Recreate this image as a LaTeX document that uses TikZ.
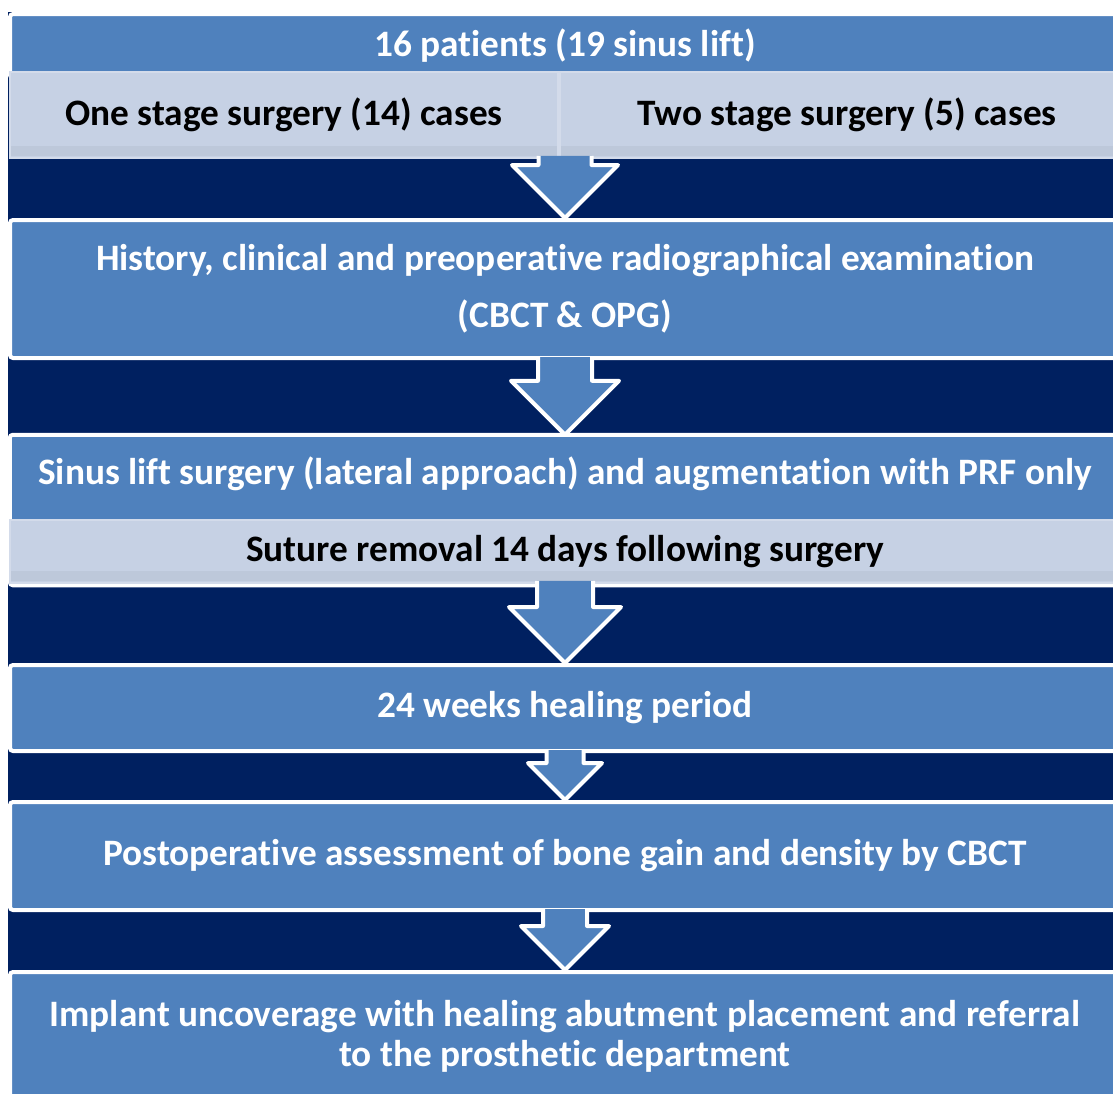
\documentclass[tikz,border=0pt]{standalone}
\usepackage{fontspec}
\setmainfont{Carlito}[Ligatures={NoCommon,NoContextual},Contextuals=NoAlternate]
\usetikzlibrary{calc,backgrounds}
\definecolor{boxblue}{HTML}{4F81BD}
\definecolor{navy}{HTML}{002060}
\definecolor{paleblue}{HTML}{C6D1E4}
\definecolor{paleedge}{HTML}{D3DBEA}
\definecolor{paleband}{HTML}{BDC8DA}

% block arrow from the bottom of #1 down to the top of #2, head size #3
\newcommand{\blockarrow}[3]{%
  \filldraw[flowarrow] let \p1=(#1), \p2=(#2) in
    (\x2-#3/2,\y1+3pt) -- (\x2-#3/2,\y2+#3) -- (\x2-#3,\y2+#3) -- (\x2,\y2)
    -- (\x2+#3,\y2+#3) -- (\x2+#3/2,\y2+#3) -- (\x2+#3/2,\y1+3pt);}

\begin{document}
\begin{tikzpicture}[x=1pt,y=-1pt,
  font=\fontsize{37.3}{40}\selectfont\bfseries,
  stepbox/.style={draw=white,line width=4pt,fill=boxblue,rounded corners=3pt},
  steptext/.style={text=white,align=center,minimum width=1110pt,inner sep=0pt},
  notebox/.style={draw=paleedge,line width=1.5pt,fill=paleblue,text=black,inner sep=0pt,
    path picture={\fill[paleband] ([yshift=2pt]path picture bounding box.south west)
      rectangle ([yshift=12pt]path picture bounding box.south east);}},
  flowarrow/.style={draw=white,line width=4pt,fill=boxblue,line join=round}]
  \useasboundingbox (0,0) rectangle (1113,1093);

  \node[stepbox,steptext,minimum height=64pt] (top) at (565,46) {16 patients (19 sinus lift)};
  \node[notebox,minimum width=548pt,minimum height=86pt] (one) at (284,115) {One stage surgery (14) cases};
  \node[notebox,minimum width=574pt,minimum height=86pt] (two) at (847,115) {Two stage surgery (5) cases};

  \node[stepbox,steptext,minimum height=138pt] (history) at (565,289)
    {History, clinical and preoperative radiographical examination\\[17pt](CBCT \& OPG)};

  \node[steptext,minimum height=77pt] (sinus) at (565,473.5)
    {Sinus lift surgery (lateral approach) and augmentation with PRF only};
  \node[notebox,minimum width=1110pt,minimum height=63pt] (suture) at (565,551.5)
    {Suture removal 14 days following surgery};

  \node[stepbox,steptext,minimum height=86pt] (weeks) at (565,708) {24 weeks healing period};
  \node[stepbox,steptext,minimum height=108pt] (postop) at (565,856)
    {Postoperative assessment of bone gain and density by CBCT};
  \node[stepbox,steptext,minimum height=128pt] (implant) at (565,1036)
    {Implant uncoverage with healing abutment placement and referral\\to the prosthetic department};

  \begin{scope}[on background layer]
    \fill[navy] (8,12) rectangle (1113,1093);
    \draw[stepbox] (sinus.north west) rectangle ([yshift=-1.5pt]suture.south east);
  \end{scope}

  \blockarrow{one.south}{history.north}{53pt}
  \blockarrow{history.south}{sinus.north}{54pt}
  \blockarrow{suture.south}{weeks.north}{56pt}
  \blockarrow{weeks.south}{postop.north}{37pt}
  \blockarrow{postop.south}{implant.north}{44pt}
\end{tikzpicture}
\end{document}
